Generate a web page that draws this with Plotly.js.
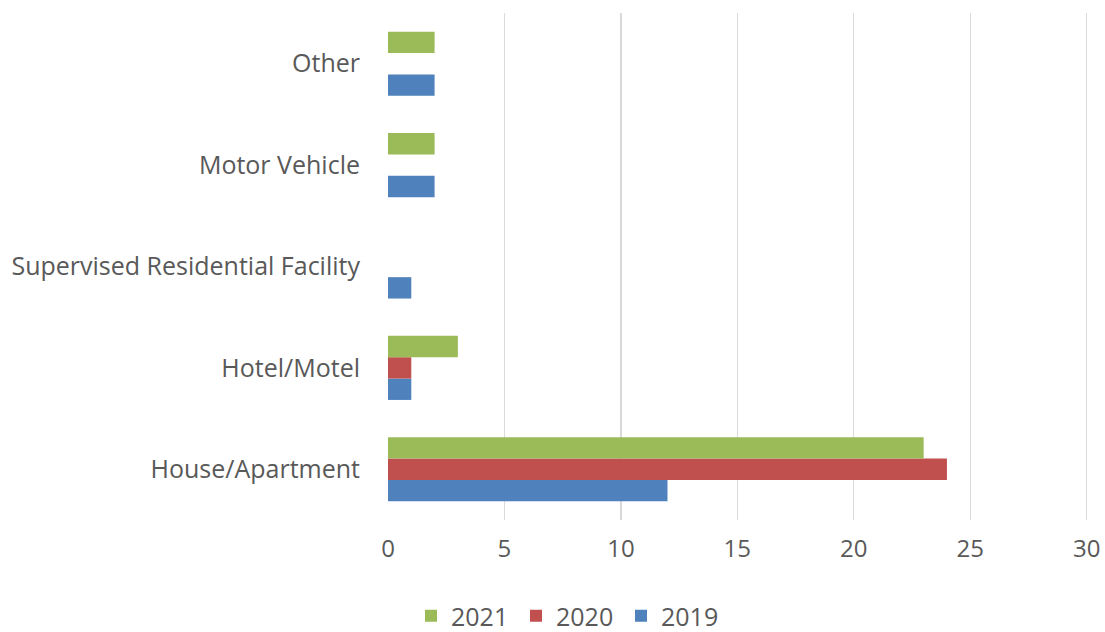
<!DOCTYPE html>
<html>
<head>
<meta charset="utf-8">
<script src="https://cdn.plot.ly/plotly-3.0.1.min.js"></script>
<style>html,body{margin:0;padding:0;background:#fff;}#chart{width:1105px;height:632px;}</style>
</head>
<body>
<div id="chart"></div>
<script>
const categories = ["House/Apartment", "Hotel/Motel", "Supervised Residential Facility", "Motor Vehicle", "Other"];
const values2019 = [12, 1, 1, 2, 2];
const values2020 = [24, 1, 0, 0, 0];
const values2021 = [23, 3, 0, 2, 2];
const xTicks = [0, 5, 10, 15, 20, 25, 30];

const font = {family: "Open Sans, Noto Sans, sans-serif", color: "#595959"};

const traces = [
  {name: "2019", y: categories, x: values2019, type: "bar", orientation: "h", marker: {color: "#4F81BD"}},
  {name: "2020", y: categories, x: values2020, type: "bar", orientation: "h", marker: {color: "#C0504D"}},
  {name: "2021", y: categories, x: values2021, type: "bar", orientation: "h", marker: {color: "#9BBB59"}}
];

const layout = {
  width: 1105, height: 632,
  margin: {l: 388, r: 16, t: 13, b: 112},
  paper_bgcolor: "#fff", plot_bgcolor: "#fff",
  barmode: "group", bargap: 0.368, bargroupgap: 0,
  font: Object.assign({size: 24}, font),
  xaxis: {
    range: [0, 30.1], tickvals: xTicks, ticktext: xTicks.map(String),
    showgrid: true, gridcolor: "#D9D9D9", gridwidth: 1.3,
    zeroline: false, showline: false, ticks: "",
    ticklabelstandoff: 12,
    tickfont: Object.assign({size: 24}, font)
  },
  yaxis: {
    type: "category", categoryorder: "array", categoryarray: categories,
    showgrid: false, zeroline: false, showline: false, ticks: "",
    ticklabelstandoff: 27,
    tickfont: Object.assign({size: 25}, font)
  },
  showlegend: true,
  legend: {
    orientation: "h", traceorder: "reversed",
    xref: "container", yref: "container",
    x: 411 / 1105, xanchor: "left", y: 16 / 632, yanchor: "middle",
    font: Object.assign({size: 25}, font),
    itemwidth: 30, entrywidth: 60, entrywidthmode: "pixels", tracegroupgap: 0
  }
};

Plotly.newPlot("chart", traces, layout, {displayModeBar: false, staticPlot: true});
</script>
</body>
</html>
